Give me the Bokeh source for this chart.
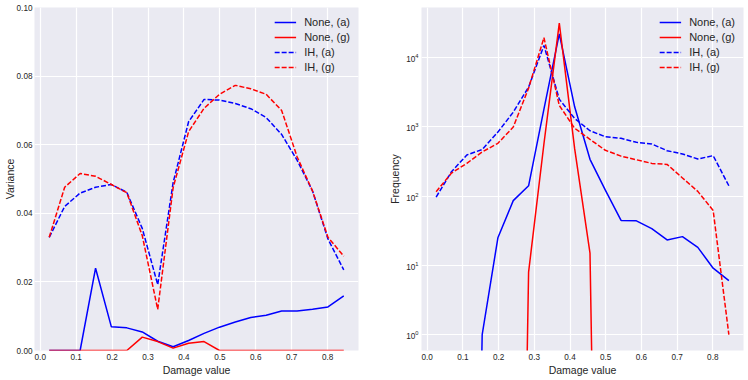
import numpy as np
from bokeh.plotting import figure
from bokeh.layouts import row
from bokeh.models import Range1d, CustomJSTickFormatter
from bokeh.embed import file_html
from bokeh.resources import INLINE

# ---------------- data ----------------
damage = [0.025, 0.068, 0.111, 0.154, 0.198, 0.241, 0.284, 0.327, 0.370, 0.413,
          0.456, 0.499, 0.543, 0.586, 0.629, 0.672, 0.715, 0.758, 0.801, 0.845]

var_none_a = [0.0, 0.0, 0.0, 0.0240, 0.0069, 0.0066, 0.0054, 0.0027, 0.0011, 0.0029,
              0.0050, 0.0068, 0.0083, 0.0096, 0.0103, 0.0115, 0.0115, 0.0120, 0.0127, 0.0159]
var_none_g = [0.0, 0.0, 0.0, 0.0, 0.0, 0.0, 0.0039, 0.0026, 0.0007, 0.0021,
              0.0026, 0.0, 0.0, 0.0, 0.0, 0.0, 0.0, 0.0, 0.0, 0.0]
var_ih_a = [0.0330, 0.0420, 0.0459, 0.0476, 0.0484, 0.0461, 0.0356, 0.0192, 0.0490, 0.0667,
            0.0732, 0.0730, 0.0720, 0.0705, 0.0679, 0.0630, 0.0555, 0.0465, 0.0325, 0.0235]
var_ih_g = [0.0330, 0.0476, 0.0516, 0.0508, 0.0484, 0.0460, 0.0335, 0.0120, 0.0475, 0.0638,
            0.0706, 0.0747, 0.0773, 0.0763, 0.0747, 0.0700, 0.0565, 0.0465, 0.0330, 0.0275]

freq_none_a = [0, 0, 0, 1, 25, 86, 141, 1800, 22000, 1950,
               340, 122, 44.6, 44, 34, 23.3, 26, 18.2, 9.1, 6.0]
freq_none_g = [0, 0, 0, 0, 0, 0, 8, 571, 31500, 484,
               15, 0, 0, 0, 0, 0, 0, 0, 0, 0]
freq_ih_a = [97, 225, 393, 471, 841, 1630, 3750, 15000, 2510, 1320,
             879, 720, 683, 598, 566, 453, 406, 344, 384, 141]
freq_ih_g = [116, 215, 298, 434, 579, 993, 3630, 19400, 2040, 955,
             660, 459, 378, 335, 297, 287, 183, 117, 62, 1]

x_ticks = [0.0, 0.1, 0.2, 0.3, 0.4, 0.5, 0.6, 0.7, 0.8]
var_ticks = [0.0, 0.02, 0.04, 0.06, 0.08, 0.10]

# ---------------- style ----------------
FONT = "Liberation Sans"
BG = "#EAEAF2"
TXT = "#262626"
BLUE = "#0000FF"
RED = "#FF0000"
DASH = "5 2"

H = 378
X_RANGE = (-0.016, 0.886)


def style(p, ylabel, ylabel_standoff, ytick_standoff):
    p.background_fill_color = BG
    p.border_fill_color = "white"
    p.outline_line_color = None
    for g in (p.xgrid, p.ygrid):
        g.grid_line_color = "white"
        g.grid_line_width = 1.2
    for ax in (p.xaxis, p.yaxis):
        ax.axis_line_color = None
        ax.major_tick_line_color = None
        ax.minor_tick_line_color = None
        ax.major_tick_out = 0
        ax.major_tick_in = 0
        ax.minor_tick_out = 0
        ax.minor_tick_in = 0
        ax.major_label_text_font = FONT
        ax.major_label_text_font_size = "8.2px"
        ax.major_label_text_color = TXT
        ax.axis_label_text_font = FONT
        ax.axis_label_text_font_size = "10.5px"
        ax.axis_label_text_font_style = "normal"
        ax.axis_label_text_color = TXT
    p.xaxis.major_label_standoff = 3
    p.yaxis.major_label_standoff = ytick_standoff
    p.xaxis.ticker = x_ticks
    p.xaxis.formatter = CustomJSTickFormatter(code="return tick.toFixed(1);")
    p.xaxis.axis_label = "Damage value"
    p.xaxis.axis_label_standoff = 1
    p.yaxis.axis_label = ylabel
    p.yaxis.axis_label_standoff = ylabel_standoff


def style_legend(p):
    lg = p.legend[0]
    lg.location = "top_right"
    lg.background_fill_alpha = 0
    lg.border_line_alpha = 0
    lg.label_text_font = FONT
    lg.label_text_font_size = "11px"
    lg.label_text_color = TXT
    lg.glyph_width = 22
    lg.glyph_height = 14
    lg.label_height = 14
    lg.label_standoff = 8
    lg.spacing = 1
    lg.padding = 3
    lg.margin = 5


# ---------------- left: variance ----------------
p1 = figure(width=362, height=H, output_backend="svg", toolbar_location=None,
            x_range=Range1d(*X_RANGE), y_range=Range1d(0.0, 0.10),
            min_border_left=29, min_border_right=4, min_border_top=7,
            min_border_bottom=0)
style(p1, "Variance", -2, 2)
p1.yaxis.ticker = var_ticks
p1.yaxis.formatter = CustomJSTickFormatter(code="return tick.toFixed(2);")

p1.line(damage, var_none_a, line_color=BLUE, line_width=1.5, legend_label="None, (a)")
p1.line(damage, var_none_g, line_color=RED, line_width=1.5, legend_label="None, (g)")
p1.line(damage, var_ih_a, line_color=BLUE, line_width=1.5, line_dash=DASH, legend_label="IH, (a)")
p1.line(damage, var_ih_g, line_color=RED, line_width=1.5, line_dash=DASH, legend_label="IH, (g)")
style_legend(p1)

# ---------------- right: frequency (log) ----------------
FREQ_RANGE = (0.589, 5.3e4)
p2 = figure(width=384, height=H, output_backend="svg", toolbar_location=None,
            x_range=Range1d(*X_RANGE), y_range=Range1d(*FREQ_RANGE),
            y_axis_type="log",
            min_border_left=59, min_border_right=3, min_border_top=7,
            min_border_bottom=0)
style(p2, "Frequency", 2, 3)
p2.ygrid.minor_grid_line_color = None


def floor0(v):
    # zero counts cannot be drawn on a log axis: push them far below the frame
    a = np.asarray(v, dtype=float)
    return np.where(a > 0, a, 1e-12)


p2.line(damage, floor0(freq_none_a), line_color=BLUE, line_width=1.5, legend_label="None, (a)")
p2.line(damage, floor0(freq_none_g), line_color=RED, line_width=1.5, legend_label="None, (g)")
p2.line(damage, floor0(freq_ih_a), line_color=BLUE, line_width=1.5, line_dash=DASH, legend_label="IH, (a)")
p2.line(damage, floor0(freq_ih_g), line_color=RED, line_width=1.5, line_dash=DASH, legend_label="IH, (g)")
style_legend(p2)

layout = row(p1, p2)
open("out.html", "w").write(file_html(layout, INLINE))
